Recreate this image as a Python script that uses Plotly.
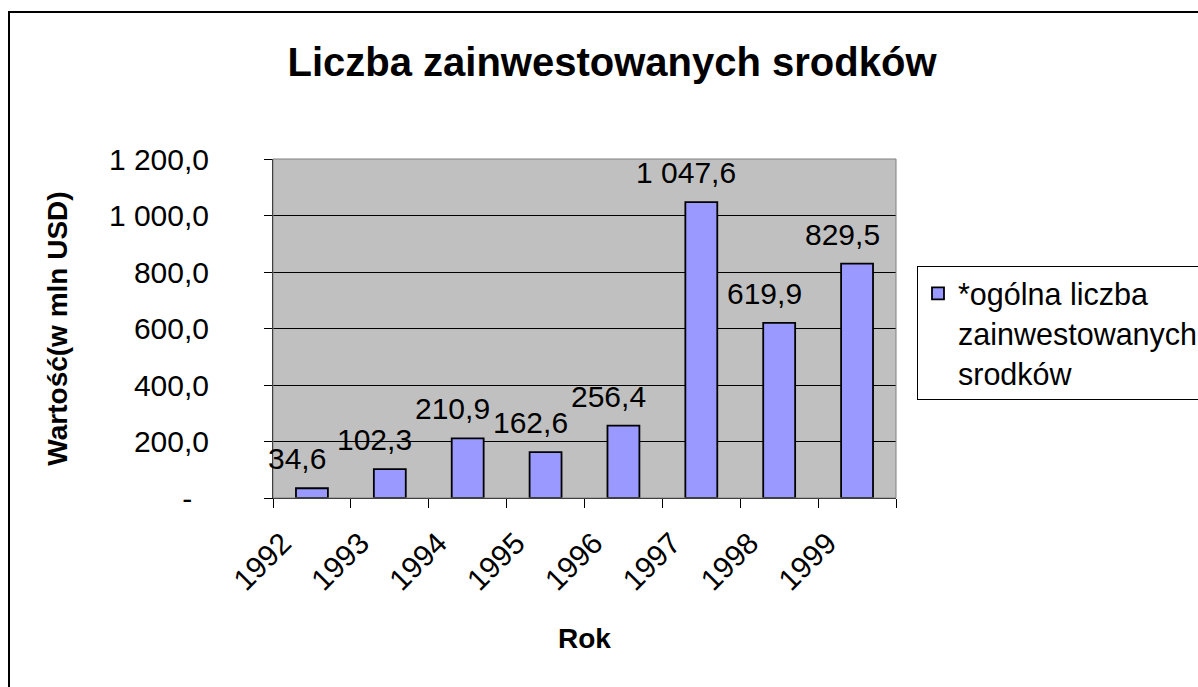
import plotly.graph_objects as go

years = ["1992", "1993", "1994", "1995", "1996", "1997", "1998", "1999"]
values = [34.6, 102.3, 210.9, 162.6, 256.4, 1047.6, 619.9, 829.5]
y_tick_vals = [0, 200, 400, 600, 800, 1000, 1200]
y_tick_text = ["-\u00a0\u00a0", "200,0", "400,0", "600,0", "800,0", "1\u00a0000,0", "1\u00a0200,0"]
series_name = "*ogólna liczba<br>zainwestowanych<br>srodków"
title_text = "Liczba zainwestowanych srodków"
x_title = "Rok"
y_title = "Wartość(w mln USD)"

FONT = "Liberation Sans, Arial, sans-serif"
PAD = "\u00a0" * 5  # trailing padding so rotated year labels sit left of the category centre


def fmt(v):
    s = f"{v:,.1f}"
    return s.replace(",", "\u00a0").replace(".", ",")


W, H = 1198, 687
L, R, T, B = 273, 302, 159, 189
pw, ph = W - L - R, H - T - B


def px_x(x):
    return (x - L) / pw


def px_y(y):
    return (H - B - y) / ph


fig = go.Figure()
fig.add_trace(go.Bar(
    x=years, y=values, name=series_name,
    marker=dict(color="#9999FF", line=dict(color="#000000", width=1.8)),
    showlegend=True,
))

for i, v in enumerate(values):
    fig.add_annotation(
        x=i, y=v, text=fmt(v), showarrow=False,
        xanchor="center", yanchor="bottom", xshift=-15, yshift=11,
        font=dict(family=FONT, size=30, color="#000000"),
    )

fig.update_layout(
    width=W, height=H,
    margin=dict(l=L, r=R, t=T, b=B, autoexpand=False),
    paper_bgcolor="#FFFFFF",
    plot_bgcolor="#C0C0C0",
    bargap=0.59,
    font=dict(family=FONT, size=30, color="#000000"),
    title=dict(
        text="<b>" + title_text + "</b>",
        x=612 / W, xanchor="center", xref="container",
        y=1 - 62 / H, yanchor="middle", yref="container",
        font=dict(family=FONT, size=40, color="#000000"),
    ),
    legend=dict(
        x=px_x(917), xanchor="left", y=px_y(266), yanchor="top",
        bgcolor="#FFFFFF", bordercolor="#000000", borderwidth=1,
        font=dict(family=FONT, size=30.5, color="#000000"),
        valign="top",
    ),
    xaxis=dict(
        type="category",
        range=[-0.5, 7.5],
        tickvals=years, ticktext=[y + PAD for y in years],
        showgrid=False,
        showline=True, linecolor="#000000", linewidth=1,
        ticks="outside", tickson="boundaries", ticklen=9, tickcolor="#000000",
        tickangle=-45,
        tickfont=dict(family=FONT, size=30, color="#000000"),
        ticklabelstandoff=-15,
        title=dict(text="<b>" + x_title + "</b>", font=dict(family=FONT, size=28, color="#000000"), standoff=32),
    ),
    yaxis=dict(
        range=[0, 1200],
        tickvals=y_tick_vals, ticktext=y_tick_text,
        showgrid=True, gridcolor="#000000", gridwidth=1,
        showline=True, linecolor="#000000", linewidth=1,
        ticks="outside", ticklen=8, tickcolor="#000000",
        tickfont=dict(family=FONT, size=30, color="#000000"),
        ticklabelstandoff=49,
        zeroline=False,
        title=dict(text="<b>" + y_title + "</b>", font=dict(family=FONT, size=28, color="#000000"), standoff=33),
    ),
    shapes=[
        dict(type="rect", xref="paper", yref="paper", x0=0, x1=1, y0=0, y1=1,
             line=dict(color="#808080", width=1), layer="above", fillcolor="rgba(0,0,0,0)"),
        dict(type="rect", xref="paper", yref="paper",
             x0=px_x(9), x1=px_x(W + 50), y0=px_y(H + 50), y1=px_y(12),
             line=dict(color="#000000", width=2), layer="above", fillcolor="rgba(0,0,0,0)"),
    ],
)

fig.write_html(
    "out.html",
    config={"displayModeBar": False},
    post_script="document.body.style.margin='0px';",
)
